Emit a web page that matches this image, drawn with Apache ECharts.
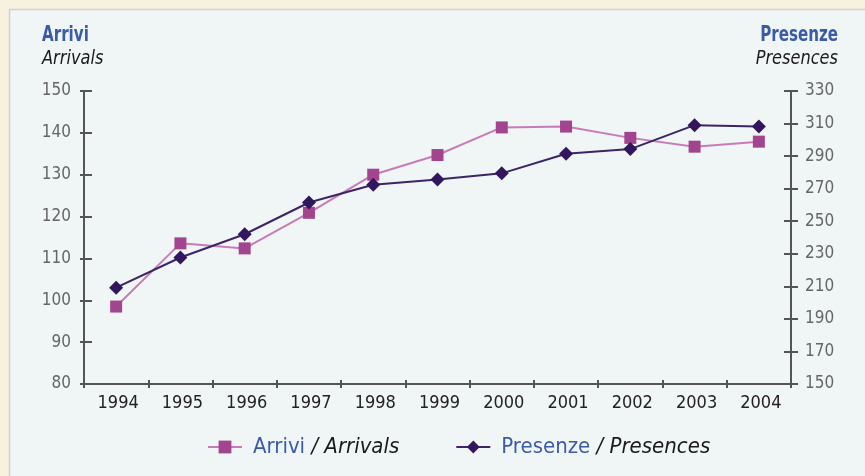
<!DOCTYPE html>
<html><head><meta charset="utf-8">
<script src="https://cdn.jsdelivr.net/npm/echarts@6/dist/echarts.min.js"></script>
<style>html,body{margin:0;padding:0;background:#f7f2e0}#c{width:865px;height:476px}</style>
</head><body><div id="c"></div>
<script>
const years = ['1994','1995','1996','1997','1998','1999','2000','2001','2002','2003','2004'];
const arrivi = [98.5, 113.6, 112.4, 120.9, 130.0, 134.7, 141.3, 141.5, 138.8, 136.7, 137.9];
const presenze = [209.2, 227.7, 242.0, 261.5, 272.4, 275.6, 279.4, 291.5, 294.3, 309.0, 308.2];
const leftTicks = {min: 80, max: 150, interval: 10};
const rightTicks = {min: 150, max: 330, interval: 20};

const FONT = '"DejaVu Sans Condensed","Liberation Sans Narrow","Liberation Sans",sans-serif';
const chart = echarts.init(document.getElementById('c'));
const axisCol = '#555';
const baseY = (t, pos) => ({type:'value', position:pos, min:t.min, max:t.max, interval:t.interval,
  splitLine:{show:false}, axisLine:{show:true, lineStyle:{color:axisCol, width:2}}});
chart.setOption({
  backgroundColor: '#f7f2e0',
  graphic: [
    {type:'rect', z:-10, shape:{x:9.5, y:9.5, width:870, height:480}, style:{fill:'#f0f5f5', stroke:'#d2d2cc', lineWidth:1.5}},
    {type:'text', x:42, y:25, scaleX:0.8, style:{text:'Arrivi', font:'bold 21px '+FONT, fill:'#3b5ba9', align:'left'}},
    {type:'text', x:42, y:49, scaleX:0.9, style:{text:'Arrivals', font:'italic 20px '+FONT, fill:'#1a1a1a', align:'left'}},
    {type:'text', x:838, y:25, scaleX:0.8, style:{text:'Presenze', font:'bold 21px '+FONT, fill:'#3b5ba9', align:'right'}},
    {type:'text', x:838, y:49, scaleX:0.9, style:{text:'Presences', font:'italic 20px '+FONT, fill:'#1a1a1a', align:'right'}}
  ],
  grid: {left:84, right:74, top:91, bottom:92},
  legend: {
    bottom: 13, left: 202, itemGap: 56, itemWidth: 34, itemHeight: 16,
    data: ['Arrivi','Presenze'],
    formatter: n => n === 'Arrivi' ? '{a|Arrivi }{b|/ Arrivals}' : '{a|Presenze }{b|/ Presences}',
    textStyle: {padding:[0,0,0,6], rich: {
      a: {fontFamily: FONT, fontSize: 22, color: '#3b5ba9'},
      b: {fontFamily: FONT, fontSize: 22, fontStyle: 'italic', color: '#1a1a1a'}
    }}
  },
  xAxis: [
    {type:'category', data: years, boundaryGap:true,
     axisLine:{lineStyle:{color:axisCol, width:2}},
     axisTick:{show:true, length:4, lineStyle:{color:axisCol, width:2}},
     axisLabel:{color:'#222', fontFamily:FONT, fontSize:18, margin:10, padding:[0,0,0,4]}},
    {type:'category', data: years, boundaryGap:true, position:'bottom',
     axisLine:{show:false}, axisLabel:{show:false},
     axisTick:{show:true, inside:true, length:4, lineStyle:{color:axisCol, width:2}}}
  ],
  yAxis: [
    Object.assign(baseY(leftTicks,'left'), {axisTick:{show:true, length:4, lineStyle:{color:axisCol, width:2}},
      axisLabel:{color:'#666', fontFamily:FONT, fontSize:17, margin:13}}),
    Object.assign(baseY(rightTicks,'right'), {axisTick:{show:true, length:7, lineStyle:{color:axisCol, width:2}},
      axisLabel:{color:'#666', fontFamily:FONT, fontSize:17, margin:14}}),
    Object.assign(baseY(leftTicks,'left'), {axisLine:{show:false}, axisLabel:{show:false},
      axisTick:{show:true, inside:true, length:8, lineStyle:{color:axisCol, width:2}}}),
    Object.assign(baseY(rightTicks,'right'), {axisLine:{show:false}, axisLabel:{show:false},
      axisTick:{show:true, inside:true, length:7, lineStyle:{color:axisCol, width:2}}})
  ],
  series: [
    {name:'Arrivi', type:'line', yAxisIndex:0, data: arrivi, symbol:'rect', symbolSize:12,
     itemStyle:{color:'#a3448f'}, lineStyle:{color:'#c97bb8', width:2}, z:3},
    {name:'Presenze', type:'line', yAxisIndex:1, data: presenze, symbol:'diamond', symbolSize:14,
     itemStyle:{color:'#33175e'}, lineStyle:{color:'#3b2468', width:2}, z:4}
  ],
  animation: false
});
</script></body></html>
